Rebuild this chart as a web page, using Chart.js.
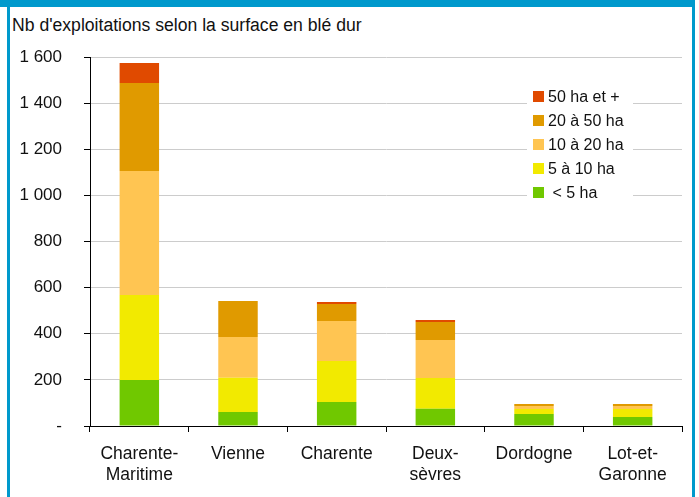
<!DOCTYPE html>
<html>
<head>
<meta charset="utf-8">
<script src="https://cdn.jsdelivr.net/npm/chart.js@4.4.1/dist/chart.umd.min.js"></script>
<style>
  body { margin: 0; background: #fff; font-family: "Liberation Sans", Arial, sans-serif; }
  #wrap { position: relative; width: 699px; height: 497px; overflow: hidden; }
  #frame { position: absolute; left: 7px; top: 0; width: 682px; height: 497px;
           border-top: 7px solid #0099cc; border-left: 3px solid #0099cc; border-right: 3px solid #0099cc; }
  #topbar { position: absolute; left: 0; top: 0; width: 695px; height: 7px; background: #0099cc; }
  #title { position: absolute; left: 12px; top: 15px; font-size: 17.6px; color: #111; }
  canvas { position: absolute; left: 0; top: 0; }
</style>
</head>
<body>
<div id="wrap">
  <div id="frame"></div>
  <div id="topbar"></div>
  <div id="title">Nb d'exploitations selon la surface en blé dur</div>
  <canvas id="chart1" width="699" height="497"></canvas>
</div>
<script>
// categories
const departements = [['Charente-', 'Maritime'], 'Vienne', 'Charente', ['Deux-', 'sèvres'], 'Dordogne', ['Lot-et-', 'Garonne']];

// series (nb d'exploitations)
const moins5 = [200, 61, 104, 75, 52, 39];
const de5a10 = [368, 148, 178, 133, 22, 35];
const de10a20 = [538, 177, 173, 165, 13, 13];
const de20a50 = [381, 156, 74, 78, 8, 8];
const plus50 = [87, 0, 9, 9, 0, 0];

const yTicks = [0, 200, 400, 600, 800, 1000, 1200, 1400, 1600];

const fontFam = '"Liberation Sans", Arial, sans-serif';

function fmt(v) {
    if (v === 0) return '-';
    return String(v).replace(/\B(?=(\d{3})+(?!\d))/g, ' ');
}

// legend drawn as a white box over the gridlines, top entry = last dataset
const boxLegend = {
    id: 'boxLegend',
    afterDraw(chart) {
        const c = chart.ctx;
        c.save();
        c.fillStyle = '#fff';
        c.fillRect(527, 85, 106, 118);
        const sets = chart.data.datasets.slice().reverse();
        c.font = '16px ' + fontFam;
        c.textBaseline = 'middle';
        sets.forEach((ds, i) => {
            const y = 97 + i * 24;
            c.fillStyle = ds.backgroundColor;
            c.fillRect(533, y - 6, 11, 11);
            c.fillStyle = '#111';
            c.fillText(ds.label, 548, y + 1);
        });
        c.restore();
    }
};

const ctx = document.getElementById('chart1');
new Chart(ctx, {
    type: 'bar',
    data: {
        labels: departements,
        datasets: [
            { label: ' < 5 ha', data: moins5, backgroundColor: '#70c800' },
            { label: '5 à 10 ha', data: de5a10, backgroundColor: '#f2ea00' },
            { label: '10 à 20 ha', data: de10a20, backgroundColor: '#ffc552' },
            { label: '20 à 50 ha', data: de20a50, backgroundColor: '#e09a00' },
            { label: '50 ha et +', data: plus50, backgroundColor: '#e04a00' }
        ]
    },
    options: {
        responsive: false,
        animation: false,
        layout: { padding: { left: 0, right: 17, top: 57, bottom: 0 } },
        datasets: { bar: { barPercentage: 0.4, categoryPercentage: 1, borderWidth: 0 } },
        plugins: {
            legend: { display: false },
            tooltip: { enabled: false }
        },
        scales: {
            x: {
                stacked: true,
                afterFit: s => { s.height = 71; },
                grid: { drawOnChartArea: false, drawTicks: true, tickLength: 6, tickColor: '#000', offset: true },
                border: { color: '#000', width: 1 },
                ticks: { color: '#111', padding: 12, maxRotation: 0, font: { family: fontFam, size: 17.5, lineHeight: 1.2 } }
            },
            y: {
                stacked: true,
                min: 0,
                max: 1600,
                afterFit: s => { s.width = 90; },
                afterBuildTicks: s => { s.ticks = yTicks.map(v => ({ value: v })); },
                grid: { color: '#cccccc', lineWidth: 1, drawTicks: true, tickLength: 6, tickColor: '#000' },
                border: { color: '#000', width: 1 },
                ticks: { color: '#111', padding: 22, font: { family: fontFam, size: 17 }, callback: v => fmt(v) }
            }
        }
    },
    plugins: [boxLegend]
});
</script>
</body>
</html>
